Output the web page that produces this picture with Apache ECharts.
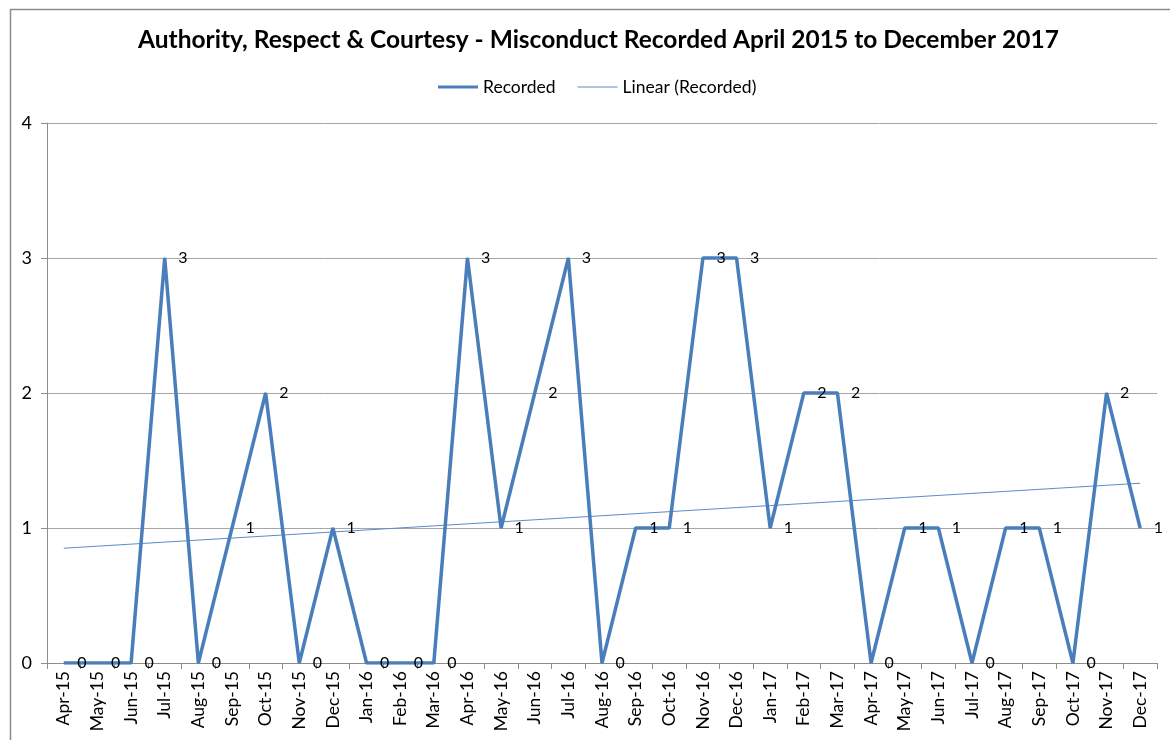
<!DOCTYPE html>
<html>
<head>
<meta charset="utf-8">
<script src="https://cdn.jsdelivr.net/npm/echarts@6/dist/echarts.min.js"></script>
<style>
  html, body { margin: 0; padding: 0; background: #fff; }
  #chart { width: 1170px; height: 740px; }
</style>
</head>
<body>
<div id="chart"></div>
<script>
// Monthly categories, April 2015 to December 2017
const months = [
  'Apr-15','May-15','Jun-15','Jul-15','Aug-15','Sep-15','Oct-15','Nov-15','Dec-15',
  'Jan-16','Feb-16','Mar-16','Apr-16','May-16','Jun-16','Jul-16','Aug-16','Sep-16','Oct-16','Nov-16','Dec-16',
  'Jan-17','Feb-17','Mar-17','Apr-17','May-17','Jun-17','Jul-17','Aug-17','Sep-17','Oct-17','Nov-17','Dec-17'
];

// Misconduct recorded per month
const recorded = [
  0, 0, 0, 3, 0, 1, 2, 0, 1,
  0, 0, 0, 3, 1, 2, 3, 0, 1, 1, 3, 3,
  1, 2, 2, 0, 1, 1, 0, 1, 1, 0, 2, 1
];

// Value axis ticks
const yTicks = [0, 1, 2, 3, 4];

// Least-squares linear trend of the recorded series
function linearTrend(values) {
  const n = values.length;
  let sx = 0, sy = 0, sxx = 0, sxy = 0;
  values.forEach((v, i) => { sx += i; sy += v; sxx += i * i; sxy += i * v; });
  const slope = (n * sxy - sx * sy) / (n * sxx - sx * sx);
  const intercept = (sy - slope * sx) / n;
  return values.map((_, i) => intercept + slope * i);
}
const trend = linearTrend(recorded);

const FONT = 'Lato, "Open Sans", sans-serif';
const BLUE = '#4a7ebb';

const chart = echarts.init(document.getElementById('chart'), null, { renderer: 'canvas' });
chart.setOption({
  animation: false,
  backgroundColor: '#fff',
  graphic: [{
    type: 'rect',
    left: 8, top: 7,
    shape: { width: 1180, height: 760 },
    style: { fill: 'none', stroke: '#8c8c8c', lineWidth: 1.5 },
    silent: true
  }],
  title: {
    text: 'Authority, Respect & Courtesy - Misconduct Recorded April 2015 to December 2017',
    left: 133,
    top: 23,
    textStyle: { fontFamily: FONT, fontSize: 24.5, fontWeight: 'bold', color: '#000' }
  },
  legend: {
    top: 73,
    left: 433,
    itemGap: 22,
    itemWidth: 40,
    itemHeight: 16,
    textStyle: { fontFamily: FONT, fontSize: 17.5, color: '#000' },
    data: [
      { name: 'Recorded', icon: 'path://M0,6 L40,6 L40,9 L0,9 Z' },
      { name: 'Linear (Recorded)', icon: 'path://M0,7 L40,7 L40,8 L0,8 Z' }
    ]
  },
  grid: { left: 47, right: 13, top: 123, bottom: 77, containLabel: false },
  xAxis: {
    type: 'category',
    data: months,
    boundaryGap: true,
    axisLine: { lineStyle: { color: '#8c8c8c', width: 1 } },
    axisTick: { show: true, alignWithLabel: false, length: 6, lineStyle: { color: '#8c8c8c' } },
    axisLabel: {
      interval: 0, rotate: 90, margin: 8,
      fontFamily: FONT, fontSize: 17.5, color: '#000'
    },
    splitLine: { show: false }
  },
  yAxis: {
    type: 'value',
    min: yTicks[0],
    max: yTicks[yTicks.length - 1],
    interval: 1,
    axisLine: { show: true, lineStyle: { color: '#8c8c8c', width: 1 } },
    axisTick: { show: true, length: 6, lineStyle: { color: '#8c8c8c' } },
    axisLabel: { fontFamily: FONT, fontSize: 18, color: '#000', margin: 15 },
    splitLine: { show: true, lineStyle: { color: '#a6a6a6', width: 1 } }
  },
  series: [
    {
      name: 'Recorded',
      type: 'line',
      data: recorded,
      symbol: 'circle',
      symbolSize: 1,
      showSymbol: true,
      lineStyle: { color: BLUE, width: 3.5 },
      itemStyle: { color: BLUE },
      label: {
        show: true,
        position: 'right',
        distance: 13,
        fontFamily: FONT,
        fontSize: 16,
        color: '#000'
      },
      labelLayout: { hideOverlap: false },
      z: 3
    },
    {
      name: 'Linear (Recorded)',
      type: 'line',
      data: trend,
      symbol: 'none',
      lineStyle: { color: '#5b8cc8', width: 1 },
      itemStyle: { color: '#5b8cc8' },
      label: { show: false },
      z: 2
    }
  ]
});
</script>
</body>
</html>
